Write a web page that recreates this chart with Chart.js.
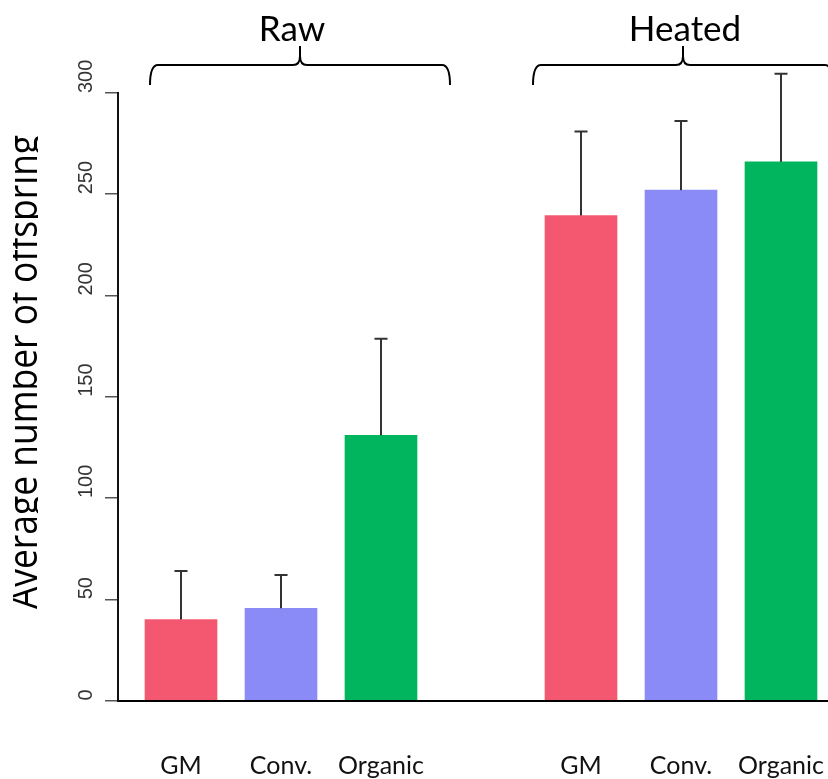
<!DOCTYPE html>
<html>
<head>
<meta charset="utf-8">
<script src="https://cdn.jsdelivr.net/npm/chart.js@4.4.0/dist/chart.umd.min.js"></script>
<style>
  html, body { margin: 0; padding: 0; background: #fff; overflow: hidden; }
  #wrap { width: 828px; height: 779px; position: relative; }
</style>
</head>
<body>
<div id="wrap"><canvas id="chart"></canvas></div>
<script>
/* ---------- data ---------- */
const groupNames = ['Raw', 'Heated'];
const categories = ['GM', 'Conv.', 'Organic', 'GM', 'Conv.', 'Organic'];
const slots = [0, 1, 2, 4, 5, 6];          // slot 3 is the empty gap between groups
const means = [40, 45.5, 131, 239.5, 252, 266];
const upperErr = [64, 62, 178.7, 281, 286.2, 309.5];
const barColors = ['#F45870', '#8B8BF8', '#00B55E', '#F45870', '#8B8BF8', '#00B55E'];
const yTicks = [0, 50, 100, 150, 200, 250, 300];
const yTitle = 'Average number of offspring';

/* ---------- overlay drawing (error bars, braces, rotated labels) ---------- */
const overlay = {
  id: 'overlay',
  afterDatasetsDraw(chart) {
    const { ctx, scales: { y } } = chart;
    const meta = chart.getDatasetMeta(0);
    ctx.save();
    ctx.strokeStyle = '#333';
    ctx.lineWidth = 2;
    meta.data.forEach((bar, i) => {
      const top = y.getPixelForValue(upperErr[i]);
      ctx.beginPath();
      ctx.moveTo(bar.x, bar.y);
      ctx.lineTo(bar.x, top);
      ctx.moveTo(bar.x - 6.5, top);
      ctx.lineTo(bar.x + 6.5, top);
      ctx.stroke();
    });
    ctx.restore();
  },
  afterDraw(chart) {
    const { ctx, scales: { x, y } } = chart;
    ctx.save();

    // y tick labels, rotated, starting at the tick and running upward
    ctx.fillStyle = '#333';
    ctx.font = '20px "Liberation Sans", Arial, sans-serif';
    ctx.textAlign = 'left';
    ctx.textBaseline = 'alphabetic';
    yTicks.forEach(v => {
      const py = y.getPixelForValue(v);
      ctx.save();
      ctx.translate(92, py);
      ctx.rotate(-Math.PI / 2);
      ctx.fillText(String(v), 0, 0);
      ctx.restore();
    });

    // y title, only a band of it shows (cut like in the source figure)
    ctx.save();
    ctx.beginPath();
    ctx.rect(13, 0, 25, chart.height);
    ctx.clip();
    ctx.fillStyle = '#000';
    ctx.font = '40px "Open Sans", sans-serif';
    ctx.textAlign = 'center';
    ctx.translate(37, 372);
    ctx.rotate(-Math.PI / 2);
    ctx.scale(0.885, 1);
    ctx.fillText(yTitle, 0, 0);
    ctx.restore();

    // group braces and titles
    const braceStart = [-0.31, 3.52];
    ctx.strokeStyle = '#000';
    ctx.lineWidth = 2;
    ctx.fillStyle = '#000';
    ctx.font = '35px Lato, sans-serif';
    ctx.textAlign = 'center';
    ctx.textBaseline = 'alphabetic';
    groupNames.forEach((name, g) => {
      const l = x.getPixelForValue(braceStart[g]);
      const r = x.getPixelForValue(braceStart[g] + 3);
      const m = (l + r) / 2;
      const yb = 65;
      ctx.beginPath();
      ctx.moveTo(l, 85);
      ctx.quadraticCurveTo(l, yb, l + 8, yb);
      ctx.lineTo(m - 7, yb);
      ctx.quadraticCurveTo(m, yb, m, yb - 9);
      ctx.lineTo(m, 46);
      ctx.moveTo(m, yb - 9);
      ctx.quadraticCurveTo(m, yb, m + 7, yb);
      ctx.lineTo(r - 8, yb);
      ctx.quadraticCurveTo(r, yb, r, 85);
      ctx.stroke();
      ctx.fillText(name, m - 8 + g * 10, 41);
    });
    ctx.restore();
  }
};

/* ---------- chart ---------- */
const chart = new Chart(document.getElementById('chart'), {
  type: 'bar',
  data: {
    datasets: [{
      data: slots.map((s, i) => ({ x: s, y: means[i] })),
      backgroundColor: barColors,
      barThickness: 72,
      borderWidth: 0
    }]
  },
  options: {
    responsive: true,
    maintainAspectRatio: false,
    animation: false,
    devicePixelRatio: 1,
    layout: { padding: { top: 93, left: 0, right: 0, bottom: 0 } },
    plugins: { legend: { display: false }, tooltip: { enabled: false } },
    scales: {
      x: {
        type: 'linear',
        offset: false,
        min: -0.63,
        max: 6.47,
        afterBuildTicks: s => { s.ticks = slots.map(v => ({ value: v })); },
        afterFit: s => { s.height = 78.5; s.paddingLeft = 0; s.paddingRight = 0; },
        grid: { display: false, drawTicks: false },
        border: { display: true, color: '#000', width: 2 },
        ticks: {
          autoSkip: false,
          maxRotation: 0,
          padding: 50,
          color: '#111',
          font: { family: 'Lato', size: 25 },
          callback: v => categories[slots.indexOf(v)]
        }
      },
      y: {
        min: 0,
        max: 300,
        afterBuildTicks: s => { s.ticks = yTicks.map(v => ({ value: v })); },
        afterFit: s => { s.width = 118; s.paddingTop = 0; s.paddingBottom = 0; },
        grid: { drawOnChartArea: false, drawTicks: true, tickLength: 13, color: '#555', lineWidth: 1.5 },
        border: { display: true, color: '#111', width: 2 },
        ticks: { display: false }
      }
    }
  },
  plugins: [overlay]
});
</script>
</body>
</html>
